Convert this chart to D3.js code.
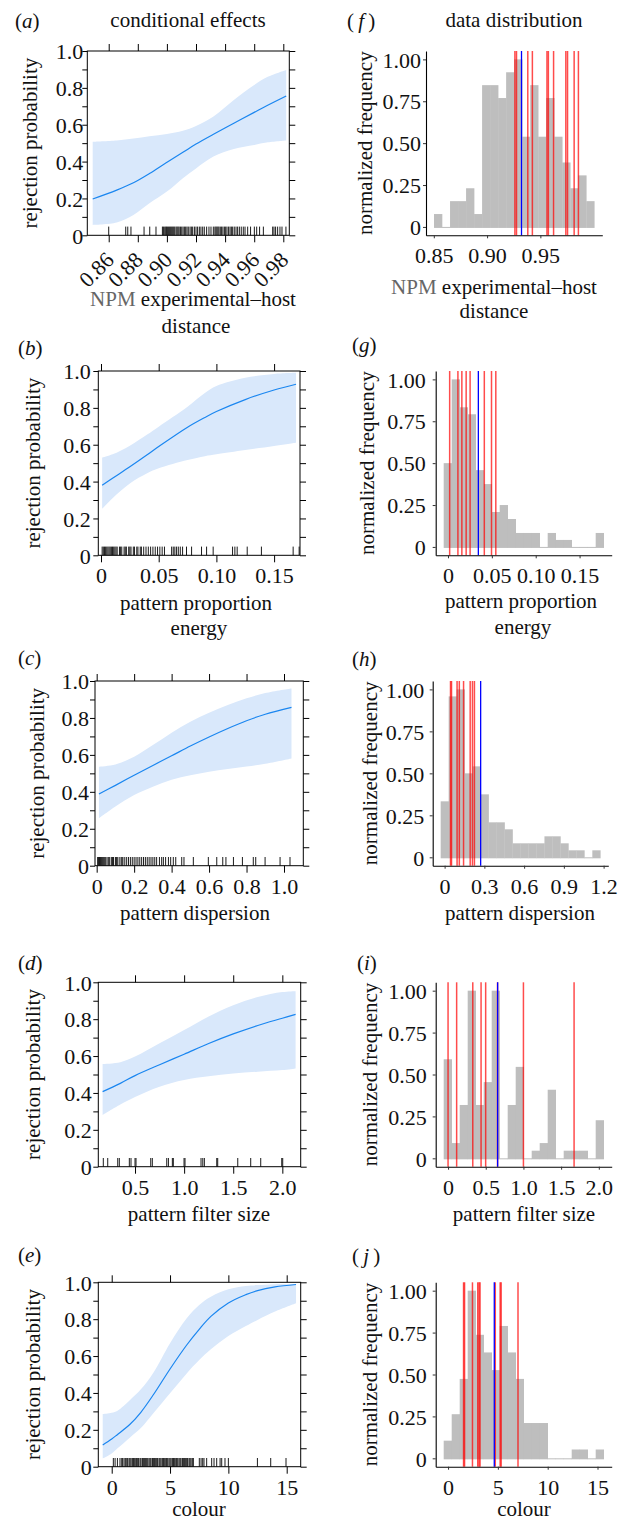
<!DOCTYPE html>
<html><head><meta charset="utf-8">
<script src="https://cdn.jsdelivr.net/npm/d3@7"></script>
<style>
body{margin:0;background:#fff;}
svg text{font-family:"Liberation Serif","Times New Roman",serif;font-size:21px;fill:#111;}
svg .tick text{font-size:22px;}
</style></head><body>
<svg id="c" width="630" height="1524"></svg>
<script>
// ---------- DATA: conditional effects (left column) ----------
const aX   = [0.849, 0.8655, 0.877, 0.888, 0.90, 0.911, 0.92, 0.932, 0.946, 0.96, 0.9686, 0.982];
const aFit = [0.197, 0.245, 0.285, 0.335, 0.396, 0.45, 0.495, 0.548, 0.608, 0.667, 0.703, 0.756];
const aLo  = [0.056, 0.069, 0.11, 0.174, 0.237, 0.31, 0.363, 0.427, 0.468, 0.49, 0.503, 0.514];
const aHi  = [0.508, 0.515, 0.525, 0.538, 0.55, 0.567, 0.593, 0.645, 0.734, 0.815, 0.857, 0.897];
const aRug = [0.860, 0.8717, 0.8731, 0.8753, 0.8843, 0.8882, 0.8925, 0.8969, 0.8976, 0.8985, 0.8992, 0.8998,
  0.9005, 0.9012, 0.9019, 0.9026, 0.9033, 0.9040, 0.9047, 0.9054, 0.9063, 0.9070, 0.9077, 0.9084, 0.9093,
  0.9102, 0.9111, 0.9120, 0.9129, 0.9138, 0.9147, 0.9159, 0.9168, 0.9177, 0.9189, 0.9200, 0.9211, 0.9223,
  0.9234, 0.9246, 0.9257, 0.9273, 0.9289, 0.9303, 0.9319, 0.9330, 0.9337, 0.9344, 0.9351, 0.9358, 0.9367,
  0.9376, 0.9385, 0.9395, 0.9404, 0.9413, 0.9424, 0.9434, 0.9443, 0.9452, 0.9463, 0.9475, 0.9486, 0.9498,
  0.9511, 0.9525, 0.9537, 0.9555, 0.9575, 0.9601, 0.9617, 0.9637, 0.9663, 0.9727, 0.9736, 0.9747, 0.9761,
  0.9777, 0.9791, 0.9818];
const aTicks = [0.86, 0.88, 0.90, 0.92, 0.94, 0.96, 0.98];
const aTickLabels = ["0.86", "0.88", "0.90", "0.92", "0.94", "0.96", "0.98"];

const bX   = [0.001, 0.01, 0.025, 0.04, 0.05, 0.075, 0.09, 0.10, 0.125, 0.15, 0.169];
const bFit = [0.38, 0.418, 0.48, 0.545, 0.59, 0.695, 0.748, 0.78, 0.845, 0.897, 0.928];
const bLo  = [0.253, 0.31, 0.39, 0.445, 0.472, 0.517, 0.538, 0.548, 0.571, 0.593, 0.611];
const bHi  = [0.53, 0.548, 0.595, 0.655, 0.698, 0.806, 0.88, 0.918, 0.963, 0.984, 0.99];
const bRug = [0.001, 0.002, 0.003, 0.004, 0.005, 0.006, 0.007, 0.008, 0.009, 0.010, 0.011, 0.012, 0.013,
  0.014, 0.016, 0.017, 0.018, 0.020, 0.021, 0.022, 0.024, 0.025, 0.026, 0.028, 0.029, 0.031, 0.032, 0.034,
  0.035, 0.037, 0.039, 0.041, 0.043, 0.045, 0.047, 0.049, 0.051, 0.053, 0.055, 0.0612, 0.0626, 0.064,
  0.0655, 0.067, 0.0687, 0.0707, 0.0741, 0.0785, 0.0871, 0.0915, 0.0972, 0.114, 0.116, 0.118, 0.1267,
  0.139, 0.1665, 0.1717];
const bTicks = [0, 0.05, 0.10, 0.15];
const bTickLabels = ["0", "0.05", "0.10", "0.15"];

const cX   = [0.012, 0.1, 0.2, 0.3, 0.4, 0.5, 0.6, 0.7, 0.8, 0.9, 1.04];
const cFit = [0.388, 0.435, 0.49, 0.543, 0.595, 0.648, 0.697, 0.743, 0.785, 0.82, 0.857];
const cLo  = [0.256, 0.32, 0.383, 0.428, 0.465, 0.49, 0.509, 0.524, 0.537, 0.552, 0.581];
const cHi  = [0.536, 0.548, 0.59, 0.653, 0.72, 0.78, 0.828, 0.87, 0.906, 0.935, 0.96];
const cRug = [0.005, 0.01, 0.015, 0.02, 0.025, 0.03, 0.035, 0.04, 0.045, 0.05, 0.06, 0.065, 0.07, 0.08,
  0.085, 0.09, 0.1, 0.105, 0.11, 0.12, 0.13, 0.135, 0.14, 0.15, 0.16, 0.17, 0.18, 0.19, 0.2, 0.21, 0.22,
  0.23, 0.24, 0.25, 0.26, 0.27, 0.28, 0.29, 0.3, 0.31, 0.32, 0.335, 0.347, 0.356, 0.368, 0.383, 0.395,
  0.409, 0.422, 0.454, 0.466, 0.516, 0.596, 0.641, 0.673, 0.69, 0.73, 0.778, 0.836, 0.849, 0.899, 0.979, 1.032];
const cTicks = [0, 0.2, 0.4, 0.6, 0.8, 1.0];
const cTickLabels = ["0", "0.2", "0.4", "0.6", "0.8", "1.0"];

const dX   = [0.17, 0.35, 0.5, 0.75, 1.0, 1.25, 1.5, 1.75, 2.0, 2.135];
const dFit = [0.407, 0.452, 0.494, 0.553, 0.61, 0.668, 0.72, 0.766, 0.805, 0.826];
const dLo  = [0.28, 0.337, 0.378, 0.434, 0.47, 0.49, 0.505, 0.515, 0.524, 0.533];
const dHi  = [0.557, 0.567, 0.597, 0.669, 0.741, 0.815, 0.876, 0.92, 0.947, 0.952];
const dRug = [0.177, 0.222, 0.324, 0.34, 0.442, 0.459, 0.5, 0.51, 0.66, 0.676, 0.823, 0.84, 0.88, 0.89,
  0.999, 1.009, 1.172, 1.19, 1.206, 1.332, 1.342, 1.546, 1.678, 1.78, 1.994, 2.004];
const dTicks = [0.5, 1.0, 1.5, 2.0];
const dTickLabels = ["0.5", "1.0", "1.5", "2.0"];

const eX   = [-0.77, 0, 0.5, 1.57, 2.5, 3.57, 5, 6.43, 7.5, 8.5, 10, 11.5, 12.5, 14, 15.8];
const eFit = [0.1175, 0.15, 0.175, 0.23, 0.295, 0.39, 0.53, 0.66, 0.745, 0.815, 0.888, 0.933, 0.955, 0.975, 0.988];
const eLo  = [0.045, 0.072, 0.10, 0.159, 0.21, 0.29, 0.398, 0.506, 0.578, 0.637, 0.709, 0.763, 0.796, 0.841, 0.886];
const eHi  = [0.286, 0.293, 0.304, 0.362, 0.42, 0.51, 0.67, 0.805, 0.877, 0.922, 0.962, 0.98, 0.985, 0.99, 0.99];
const eRug = [0.14, 0.29, 0.49, 0.71, 0.86, 0.94, 1.06, 1.17, 1.29, 1.37, 1.49, 1.57, 1.66, 1.77, 1.86, 1.94,
  2.06, 2.14, 2.23, 2.31, 2.43, 2.51, 2.63, 2.71, 2.8, 2.91, 3.0, 3.09, 3.2, 3.29, 3.37, 3.49, 3.57, 3.66,
  3.77, 3.86, 3.94, 4.06, 4.14, 4.23, 4.34, 4.43, 4.51, 4.63, 4.71, 4.8, 4.91, 5.0, 5.09, 5.2, 5.29, 5.37,
  5.49, 5.57, 5.66, 5.77, 5.86, 5.94, 6.06, 6.14, 6.23, 6.34, 6.43, 6.51, 6.63, 6.71, 6.8, 6.91, 7.0,
  7.51, 7.66, 7.8, 7.91, 8.14, 8.57, 8.77, 9.0, 9.29, 9.43, 9.71, 10.0, 12.49, 13.63, 14.94];
const eTicks = [0, 5, 10, 15];
const eTickLabels = ["0", "5", "10", "15"];

const yLeftAll = [0, 0.1, 0.2, 0.3, 0.4, 0.5, 0.6, 0.7, 0.8, 0.9, 1.0];
const yLeftMajor = [0, 0.2, 0.4, 0.6, 0.8, 1.0];
const yLeftLabels = ["0", "0.2", "0.4", "0.6", "0.8", "1.0"];

// ---------- DATA: distributions (right column) ----------
const fCounts = [1, 0, 2, 2, 3, 1, 11, 11, 10, 12, 13, 7, 11, 7, 10, 7, 5, 3, 4, 2];
const fBinStart = 0.8502, fBinWidth = 0.00752;
const fRed = [0.9261, 0.9276, 0.9382, 0.9425, 0.9562, 0.9575, 0.9624, 0.9739, 0.9755, 0.9817, 0.9857];
const fBlue = [0.9323];
const fTicks = [0.85, 0.90, 0.95];
const fTickLabels = ["0.85", "0.90", "0.95"];

const gCounts = [12, 24, 20, 19, 11, 9, 5, 6, 4, 2, 2, 2, 0, 2, 1, 1, 0, 0, 0, 2];
const gBinStart = -0.0049, gBinWidth = 0.00912;
const gRed = [0.0019, 0.0113, 0.0158, 0.0207, 0.0252, 0.0414, 0.0496, 0.0545];
const gBlue = [0.0346];
const gTicks = [0, 0.05, 0.10, 0.15];
const gTickLabels = ["0", "0.05", "0.10", "0.15"];

const hCounts = [8, 23, 24, 12, 13, 9, 5, 5, 4, 2, 2, 2, 2, 3, 3, 2, 1, 1, 0, 1];
const hBinStart = -0.0297, hBinWidth = 0.06024;
const hRed = [0.0445, 0.052, 0.094, 0.111, 0.143, 0.193, 0.210, 0.225];
const hBlue = [0.272];
const hTicks = [0, 0.3, 0.6, 0.9, 1.2];
const hTickLabels = ["0", "0.3", "0.6", "0.9", "1.2"];

const iCounts = [13, 2, 7, 22, 7, 10, 22, 0, 7, 12, 0, 1, 2, 9, 0, 1, 1, 1, 0, 5];
const iBinStart = -0.0578, iBinWidth = 0.10614;
const iRed = [0, 0.114, 0.328, 0.438, 0.499, 0.656, 1.0, 1.672];
const iBlue = [0.658];
const iTicks = [0, 0.5, 1.0, 1.5, 2.0];
const iTickLabels = ["0", "0.5", "1.0", "1.5", "2.0"];

const jCounts = [2, 5, 9, 19, 14, 12, 10, 15, 12, 9, 4, 4, 4, 0, 0, 0, 1, 1, 0, 1];
const jBinStart = -0.437, jBinWidth = 0.8029;
const jRed = [1.556, 1.656, 2.45, 2.98, 3.11, 3.21, 4.74, 5.23, 5.33, 7.02];
const jBlue = [4.64];
const jTicks = [0, 5, 10, 15];
const jTickLabels = ["0", "5", "10", "15"];

const yRightTicks = [0, 0.25, 0.5, 0.75, 1];
const yRightLabels = ["0", "0.25", "0.50", "0.75", "1.00"];

// ---------- DRAWING ----------
const svg = d3.select("#c");
const BAND = "#d9e8fb", FIT = "#1a86f0", BAR = "#bebebe";

function stripAxis(g) {
  g.attr("font-size", null).attr("font-family", null);
}

function effectPanel(p) {
  const g = svg.append("g");
  const x = d3.scaleLinear().domain(p.xDom).range([p.L, p.R]);
  const y = d3.scaleLinear().domain([0, 1]).range([p.B, p.T]);
  const pts = p.xs.map((v, i) => ({x: v, fit: p.fit[i], lo: p.lo[i], hi: p.hi[i]}));
  const cv = d3.curveCatmullRom.alpha(0.5);
  g.append("path").datum(pts)
    .attr("d", d3.area().x(d => x(d.x)).y0(d => y(d.lo)).y1(d => y(d.hi)).curve(cv))
    .attr("fill", BAND);
  g.append("path").datum(pts)
    .attr("d", d3.line().x(d => x(d.x)).y(d => y(d.fit)).curve(cv))
    .attr("fill", "none").attr("stroke", FIT).attr("stroke-width", 1.2);
  g.append("g").selectAll("line").data(p.rug).join("line")
    .attr("x1", d => x(d)).attr("x2", d => x(d))
    .attr("y1", p.B).attr("y2", p.B - 8.7)
    .attr("stroke", "#000").attr("stroke-width", 0.9);
  g.append("rect").attr("x", p.L).attr("y", p.T).attr("width", p.R - p.L).attr("height", p.B - p.T)
    .attr("fill", "none").attr("stroke", "#000").attr("stroke-width", 1);

  const fmtY = d => { const k = yLeftMajor.findIndex(m => Math.abs(m - d) < 1e-9); return k >= 0 ? yLeftLabels[k] : ""; };
  const ga = g.append("g").attr("transform", `translate(${p.L},0)`)
    .call(d3.axisLeft(y).tickValues(yLeftAll).tickFormat(fmtY).tickSize(5).tickSizeOuter(0));
  stripAxis(ga); ga.select(".domain").remove();
  ga.selectAll("text").attr("x", -p.gap).attr("dy", "0.35em");
  const gr = g.append("g").attr("transform", `translate(${p.R},0)`)
    .call(d3.axisRight(y).tickValues(yLeftAll).tickFormat("").tickSize(6).tickSizeOuter(0));
  gr.select(".domain").remove();
  const gt = g.append("g").attr("transform", `translate(0,${p.T})`)
    .call(d3.axisTop(x).tickValues(p.ticks).tickFormat("").tickSize(7).tickSizeOuter(0));
  gt.select(".domain").remove();
  const fmtX = d => { const k = p.ticks.findIndex(m => Math.abs(m - d) < 1e-9); return p.tickLabels[k]; };
  const gb = g.append("g").attr("transform", `translate(0,${p.B})`)
    .call(d3.axisBottom(x).tickValues(p.ticks).tickFormat(fmtX).tickSize(7).tickSizeOuter(0));
  stripAxis(gb); gb.select(".domain").remove();
  if (p.rot) {
    gb.selectAll("text").attr("y", 0).attr("dy", 0).attr("text-anchor", "end")
      .attr("transform", "translate(6,26) rotate(-45)");
  } else {
    gb.selectAll("text").attr("y", 28).attr("dy", 0);
  }
  g.append("text").attr("text-anchor", "middle").attr("dominant-baseline", "central")
    .attr("transform", `translate(${p.ylabX},${(p.T + p.B) / 2}) rotate(-90)`)
    .text("rejection probability");
}

function histPanel(p) {
  const g = svg.append("g");
  const lo = p.start, hi = p.start + p.counts.length * p.width, pad = 0.05 * (hi - lo);
  const x = d3.scaleLinear().domain([lo - pad, hi + pad]).range([p.L, p.R]);
  const y = d3.scaleLinear().domain([-0.05, 1.05]).range([p.B, p.T]);
  const maxC = d3.max(p.counts);
  const bins = p.counts.map((c, k) => ({x0: p.start + k * p.width, x1: p.start + (k + 1) * p.width, v: c / maxC}));
  g.append("g").selectAll("rect").data(bins).join("rect")
    .attr("x", d => x(d.x0)).attr("width", d => x(d.x1) - x(d.x0) + 0.3)
    .attr("y", d => Math.min(y(d.v), y(0))).attr("height", d => y(0) + 1 - Math.min(y(d.v), y(0)))
    .attr("fill", BAR);
  g.append("g").selectAll("line").data(p.red).join("line")
    .attr("x1", d => x(d)).attr("x2", d => x(d)).attr("y1", p.T).attr("y2", p.B)
    .attr("stroke", "#ff0000").attr("stroke-opacity", 0.7).attr("stroke-width", 1.5);
  g.append("g").selectAll("line").data(p.blue).join("line")
    .attr("x1", d => x(d)).attr("x2", d => x(d)).attr("y1", p.T).attr("y2", p.B)
    .attr("stroke", "#0000ff").attr("stroke-width", 1.3);
  const fmtY = d => { const k = yRightTicks.findIndex(m => Math.abs(m - d) < 1e-9); return yRightLabels[k]; };
  const ga = g.append("g").attr("transform", `translate(${p.L},0)`)
    .call(d3.axisLeft(y).tickValues(yRightTicks).tickFormat(fmtY).tickSize(3).tickSizeOuter(0));
  stripAxis(ga);
  ga.select(".domain").attr("stroke-width", 1.1);
  ga.selectAll(".tick line").attr("stroke", "#333");
  ga.selectAll("text").attr("x", -p.gap).attr("dy", "0.35em");
  const fmtX = d => { const k = p.ticks.findIndex(m => Math.abs(m - d) < 1e-9); return p.tickLabels[k]; };
  const gb = g.append("g").attr("transform", `translate(0,${p.B})`)
    .call(d3.axisBottom(x).tickValues(p.ticks).tickFormat(fmtX).tickSize(3).tickSizeOuter(0));
  stripAxis(gb);
  gb.select(".domain").attr("stroke-width", 1.1);
  gb.selectAll(".tick line").attr("stroke", "#333");
  gb.selectAll("text").attr("y", 28).attr("dy", 0);
  g.append("text").attr("text-anchor", "middle").attr("dominant-baseline", "central")
    .attr("transform", `translate(${p.ylabX},${(p.T + p.B) / 2}) rotate(-90)`)
    .text("normalized frequency");
}

effectPanel({L: 87.3, R: 289.3, T: 51, B: 235.3, xDom: [0.84529, 0.98412], gap: 4, ylabX: 30, rot: true,
  xs: aX, fit: aFit, lo: aLo, hi: aHi, rug: aRug, ticks: aTicks, tickLabels: aTickLabels});
effectPanel({L: 98.3, R: 300, T: 371, B: 555.3, xDom: [-0.00234, 0.17244], gap: 7.5, ylabX: 33.3,
  xs: bX, fit: bFit, lo: bLo, hi: bHi, rug: bRug, ticks: bTicks, tickLabels: bTickLabels});
effectPanel({L: 95, R: 303.3, T: 681, B: 865.7, xDom: [-0.009, 1.103], gap: 6, ylabX: 36.7,
  xs: cX, fit: cFit, lo: cLo, hi: cHi, rug: cRug, ticks: cTicks, tickLabels: cTickLabels});
effectPanel({L: 98.3, R: 300.7, T: 982.3, B: 1166.7, xDom: [0.126, 2.187], gap: 6.5, ylabX: 33.3,
  xs: dX, fit: dFit, lo: dLo, hi: dHi, rug: dRug, ticks: dTicks, tickLabels: dTickLabels});
effectPanel({L: 98.3, R: 300.7, T: 1282.3, B: 1466.7, xDom: [-1.149, 16.2], gap: 6.5, ylabX: 33.3,
  xs: eX, fit: eFit, lo: eLo, hi: eHi, rug: eRug, ticks: eTicks, tickLabels: eTickLabels});

histPanel({L: 426, R: 602.3, T: 51, B: 235.3, gap: 5, ylabX: 365,
  counts: fCounts, start: fBinStart, width: fBinWidth, red: fRed, blue: fBlue, ticks: fTicks, tickLabels: fTickLabels});
histPanel({L: 435.7, R: 611.7, T: 371, B: 555.3, gap: 10, ylabX: 367,
  counts: gCounts, start: gBinStart, width: gBinWidth, red: gRed, blue: gBlue, ticks: gTicks, tickLabels: gTickLabels});
histPanel({L: 432.7, R: 608.3, T: 681, B: 865.7, gap: 8.5, ylabX: 370,
  counts: hCounts, start: hBinStart, width: hBinWidth, red: hRed, blue: hBlue, ticks: hTicks, tickLabels: hTickLabels});
histPanel({L: 435.7, R: 611.7, T: 982.3, B: 1166.7, gap: 9, ylabX: 370,
  counts: iCounts, start: iBinStart, width: iBinWidth, red: iRed, blue: iBlue, ticks: iTicks, tickLabels: iTickLabels});
histPanel({L: 435.7, R: 611.7, T: 1282.3, B: 1466.7, gap: 9, ylabX: 370,
  counts: jCounts, start: jBinStart, width: jBinWidth, red: jRed, blue: jBlue, ticks: jTicks, tickLabels: jTickLabels});

// ---------- TEXT ----------
function panelLabel(x, y, letter, spaced) {
  const t = svg.append("text").attr("x", x).attr("y", y);
  t.append("tspan").text(spaced ? "(\u2009" : "(");
  t.append("tspan").attr("font-style", "italic").text(letter);
  t.append("tspan").text(spaced ? "\u2009)" : ")");
}
panelLabel(15, 28, "a"); panelLabel(18, 355, "b"); panelLabel(18, 665, "c");
panelLabel(18, 970, "d"); panelLabel(18, 1262, "e");
panelLabel(347, 28, "f", true); panelLabel(352, 352, "g"); panelLabel(352, 666, "h");
panelLabel(357, 970, "i"); panelLabel(352, 1263, "j", true);

function ctext(x, y, s) { return svg.append("text").attr("x", x).attr("y", y).attr("text-anchor", "middle").text(s); }
ctext(188, 27, "conditional effects");
ctext(514, 27, "data distribution");

function npmLabel(x, y) {
  const t = svg.append("text").attr("x", x).attr("y", y).attr("text-anchor", "middle");
  t.append("tspan").style("fill", "#666").text("NPM ");
  t.append("tspan").text("experimental\u2013host");
}
npmLabel(193, 306); ctext(196, 333, "distance");
npmLabel(494, 294); ctext(494, 318, "distance");
ctext(196, 610, "pattern proportion"); ctext(199, 635, "energy");
ctext(521, 608, "pattern proportion"); ctext(523, 634, "energy");
ctext(195, 920, "pattern dispersion"); ctext(520, 920, "pattern dispersion");
ctext(199, 1221, "pattern filter size"); ctext(524, 1221, "pattern filter size");
ctext(199, 1516, "colour"); ctext(524, 1516, "colour");
</script>
</body></html>
